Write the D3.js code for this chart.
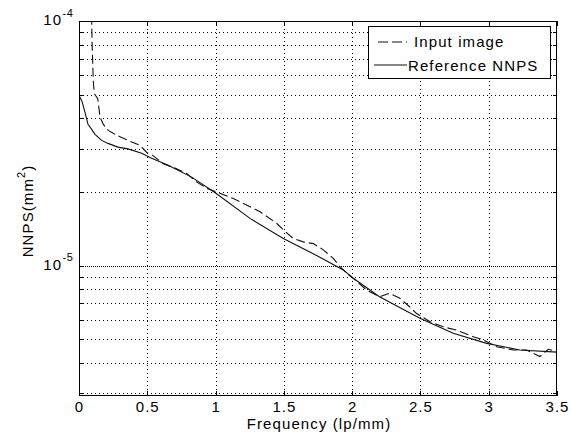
<!DOCTYPE html>
<html>
<head>
<meta charset="utf-8">
<script src="https://cdn.jsdelivr.net/npm/d3@7"></script>
<style>
  body { margin: 0; background: #fff; }
  text { font-family: "Liberation Sans", Arial, sans-serif; fill: #000; }
</style>
</head>
<body>
<svg id="chart"></svg>
<script>
// reference NNPS curve (solid)
const refFreq = [0, 0.022, 0.044, 0.066, 0.088, 0.117, 0.166, 0.212, 0.285, 0.359, 0.459, 0.532, 0.652, 0.825, 1.0, 1.252, 1.496, 1.74, 1.935, 2.006, 2.2, 2.496, 2.74, 2.985, 3.228, 3.5];
const refNnps = [4.97e-5, 4.69e-5, 4.23e-5, 3.78e-5, 3.64e-5, 3.44e-5, 3.25e-5, 3.16e-5, 3.05e-5, 3.0e-5, 2.88e-5, 2.75e-5, 2.57e-5, 2.30e-5, 1.98e-5, 1.56e-5, 1.29e-5, 1.10e-5, 9.6e-6, 8.9e-6, 7.46e-6, 6.09e-6, 5.29e-6, 4.81e-6, 4.52e-6, 4.43e-6];

// input image curve (dashed)
const inFreq = [0.092, 0.097, 0.105, 0.112, 0.137, 0.154, 0.178, 0.214, 0.276, 0.313, 0.386, 0.447, 0.496, 0.544, 0.617, 0.715, 0.788, 0.861, 0.934, 1.008, 1.13, 1.252, 1.325, 1.447, 1.496, 1.569, 1.642, 1.716, 1.789, 1.862, 1.911, 1.96, 2.008, 2.106, 2.2, 2.273, 2.35, 2.42, 2.47, 2.57, 2.667, 2.765, 2.887, 2.96, 3.058, 3.18, 3.277, 3.375, 3.436, 3.5];
const inNnps = [1.05e-4, 7.7e-5, 5.63e-5, 5.05e-5, 4.81e-5, 4.05e-5, 3.78e-5, 3.57e-5, 3.41e-5, 3.34e-5, 3.2e-5, 3.1e-5, 2.9e-5, 2.81e-5, 2.61e-5, 2.49e-5, 2.38e-5, 2.2e-5, 2.07e-5, 2.0e-5, 1.88e-5, 1.74e-5, 1.66e-5, 1.49e-5, 1.40e-5, 1.29e-5, 1.25e-5, 1.23e-5, 1.16e-5, 1.07e-5, 9.9e-6, 9.3e-6, 8.87e-6, 7.94e-6, 7.46e-6, 7.7e-6, 7.35e-6, 6.79e-6, 6.38e-6, 5.9e-6, 5.62e-6, 5.45e-6, 5.12e-6, 4.97e-6, 4.66e-6, 4.52e-6, 4.52e-6, 4.25e-6, 4.55e-6, 4.45e-6];

const xTicks = [0, 0.5, 1, 1.5, 2, 2.5, 3, 3.5];
const yMajor = [1e-5, 1e-4];
const yMinor = [3e-6, 4e-6, 5e-6, 6e-6, 7e-6, 8e-6, 9e-6, 2e-5, 3e-5, 4e-5, 5e-5, 6e-5, 7e-5, 8e-5, 9e-5];
const yLabels = [{v: 1e-4, exp: '-4'}, {v: 1e-5, exp: '-5'}];

const width = 576, height = 443;
const margin = {left: 79, right: 19, top: 21, bottom: 47};

const svg = d3.select('#chart').attr('width', width).attr('height', height);

const x = d3.scaleLinear().domain([0, 3.5]).range([margin.left, width - margin.right]);
const y = d3.scaleLog().domain([2.93e-6, 1e-4]).range([height - margin.bottom, margin.top]);

const x0 = x.range()[0], x1 = x.range()[1];
const y0 = y.range()[0], y1 = y.range()[1];
const minorShown = yMinor.filter(d => y(d) < y0 - 2);

svg.append('defs').append('clipPath').attr('id', 'plotclip')
    .append('rect').attr('x', x0).attr('y', y1).attr('width', x1 - x0).attr('height', y0 - y1);

// grid
const grid = svg.append('g').attr('shape-rendering', 'crispEdges')
    .attr('stroke', '#000').attr('stroke-width', 1);

grid.selectAll('.vgrid').data(xTicks.slice(1, -1)).join('line')
    .attr('x1', d => Math.round(x(d)) + 0.5).attr('x2', d => Math.round(x(d)) + 0.5)
    .attr('y1', y1).attr('y2', y0)
    .attr('stroke-dasharray', '1,3');

grid.selectAll('.hgrid').data(minorShown).join('line')
    .attr('x1', x0).attr('x2', x1)
    .attr('y1', d => Math.round(y(d)) + 0.5).attr('y2', d => Math.round(y(d)) + 0.5)
    .attr('stroke-dasharray', '1,3');

grid.selectAll('.hgridmaj').data([1e-5]).join('line')
    .attr('x1', x0).attr('x2', x1)
    .attr('y1', d => Math.round(y(d)) + 0.5).attr('y2', d => Math.round(y(d)) + 0.5)
    .attr('stroke-dasharray', '1,1');

// curves
const line = d3.line().x(d => x(d[0])).y(d => y(d[1]));
const plot = svg.append('g').attr('clip-path', 'url(#plotclip)');

plot.append('path')
    .datum(refFreq.map((f, i) => [f, refNnps[i]]))
    .attr('d', line).attr('fill', 'none')
    .attr('stroke', '#111').attr('stroke-width', 1.1);

plot.append('path')
    .datum(inFreq.map((f, i) => [f, inNnps[i]]))
    .attr('d', line).attr('fill', 'none')
    .attr('stroke', '#111').attr('stroke-width', 1.1)
    .attr('stroke-dasharray', '9,4');

// axes, MATLAB style: ticks pointing inward on all four sides
const axBottom = svg.append('g')
    .attr('transform', 'translate(0,' + y0 + ')')
    .call(d3.axisBottom(x).tickValues(xTicks).tickSize(-5).tickPadding(5)
        .tickFormat(d3.format('')));
const axTop = svg.append('g')
    .attr('transform', 'translate(0,' + y1 + ')')
    .call(d3.axisTop(x).tickValues(xTicks).tickSize(-5).tickFormat(''));
const axLeft = svg.append('g')
    .attr('transform', 'translate(' + x0 + ',0)')
    .call(d3.axisLeft(y).tickValues(yMajor).tickSize(-5).tickFormat(''));
const axLeftMinor = svg.append('g')
    .attr('transform', 'translate(' + x0 + ',0)')
    .call(d3.axisLeft(y).tickValues(minorShown).tickSize(-4).tickFormat(''));
const axRight = svg.append('g')
    .attr('transform', 'translate(' + x1 + ',0)')
    .call(d3.axisRight(y).tickValues(yMajor).tickSize(-5).tickFormat(''));
const axRightMinor = svg.append('g')
    .attr('transform', 'translate(' + x1 + ',0)')
    .call(d3.axisRight(y).tickValues(minorShown).tickSize(-4).tickFormat(''));

[axBottom, axTop, axLeft, axLeftMinor, axRight, axRightMinor].forEach(g => {
    g.select('.domain').remove();
    g.selectAll('line').attr('stroke', '#000').attr('shape-rendering', 'crispEdges');
});
axBottom.selectAll('text').attr('font-size', 15).attr('letter-spacing', 1)
    .attr('font-family', '"Liberation Sans", Arial, sans-serif').attr('fill', '#000');

// frame
svg.append('rect')
    .attr('x', x0 + 0.5).attr('y', y1 + 0.5)
    .attr('width', x1 - x0 - 1).attr('height', y0 - y1 - 1)
    .attr('fill', 'none').attr('stroke', '#000').attr('shape-rendering', 'crispEdges');

// y tick labels 10^n
const yl = svg.append('g');
yl.selectAll('.base').data(yLabels).join('text')
    .attr('x', 62).attr('y', d => y(d.v) + 4)
    .attr('text-anchor', 'end').attr('font-size', 15).attr('letter-spacing', 1)
    .text('10');
yl.selectAll('.exp').data(yLabels).join('text')
    .attr('x', 62.5).attr('y', d => y(d.v) - 4.5)
    .attr('font-size', 11).attr('letter-spacing', 0.5)
    .text(d => d.exp);

// axis titles
svg.append('text')
    .attr('x', (x0 + x1) / 2 + 1).attr('y', 429)
    .attr('text-anchor', 'middle').attr('font-size', 15).attr('letter-spacing', 1.1)
    .text('Frequency (lp/mm)');

const ytitle = svg.append('text')
    .attr('transform', 'translate(33,211) rotate(-90)')
    .attr('text-anchor', 'middle').attr('font-size', 15).attr('letter-spacing', 1.1);
ytitle.append('tspan').text('NNPS(mm');
ytitle.append('tspan').attr('dy', -8).attr('font-size', 11).text('2');
ytitle.append('tspan').attr('dy', 8).text(')');

// legend
const legend = svg.append('g');
legend.append('rect')
    .attr('x', 368.5).attr('y', 26.5).attr('width', 182).attr('height', 52)
    .attr('fill', '#fff').attr('stroke', '#000').attr('shape-rendering', 'crispEdges');
legend.append('line')
    .attr('x1', 378).attr('x2', 407).attr('y1', 42).attr('y2', 42)
    .attr('stroke', '#111').attr('stroke-width', 1.1).attr('stroke-dasharray', '10,4');
legend.append('line')
    .attr('x1', 374).attr('x2', 407).attr('y1', 65).attr('y2', 65)
    .attr('stroke', '#111').attr('stroke-width', 1.1);
legend.append('text').attr('x', 414).attr('y', 47)
    .attr('font-size', 15).attr('letter-spacing', 1.1).text('Input image');
legend.append('text').attr('x', 408).attr('y', 70.5)
    .attr('font-size', 15).attr('letter-spacing', 1.1).text('Reference NNPS');
</script>
</body>
</html>
